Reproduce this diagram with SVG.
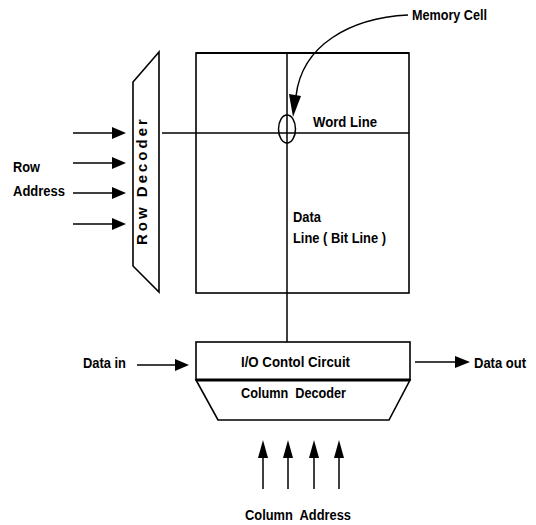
<svg xmlns="http://www.w3.org/2000/svg" width="536" height="525" viewBox="0 0 536 525">
<style>
text{font-family:"Liberation Sans",Arial,sans-serif;font-weight:bold;font-size:14px;fill:#000}
.ln{stroke:#000;stroke-width:1.5;fill:none}
.box{stroke:#000;stroke-width:1.6;fill:#fff}
.ah{fill:#000;stroke:none}
</style>
<rect width="536" height="525" fill="#fff"/>
<g id="memory-array">
<rect class="box" x="196" y="53" width="213" height="240"/>
<line x1="196" y1="53" x2="409" y2="53" stroke="#000" stroke-width="2.2"/>
<text x="293" y="222" textLength="28" lengthAdjust="spacingAndGlyphs">Data</text>
<text x="293" y="243" textLength="93" lengthAdjust="spacingAndGlyphs">Line ( Bit Line )</text>
<text x="313" y="127" textLength="64" lengthAdjust="spacingAndGlyphs">Word Line</text>
</g>
<g id="row-decoder">
<polygon class="box" points="159,52 133,82 133,266 159,292"/>
<text transform="translate(147,245) rotate(-90)" style="font-size:15px;letter-spacing:3px">Row Decoder</text>
</g>
<g id="io-control">
<rect class="box" x="196" y="342" width="214" height="38"/>
<text x="241" y="367" textLength="109" lengthAdjust="spacingAndGlyphs">I/O Contol Circuit</text>
</g>
<g id="column-decoder">
<polygon class="box" points="196,380 410,380 389,420 218,420"/>
<line x1="196" y1="380" x2="410" y2="380" stroke="#000" stroke-width="3"/>
<text x="241" y="398" style="white-space:pre" textLength="105" lengthAdjust="spacingAndGlyphs">Column  Decoder</text>
</g>
<g id="memory-cell">
<ellipse cx="287" cy="129" rx="8.5" ry="14" class="ln"/>
<text x="412" y="20" textLength="75" lengthAdjust="spacingAndGlyphs">Memory Cell</text>
</g>
<g id="labels">
<text x="13" y="172" textLength="27" lengthAdjust="spacingAndGlyphs">Row</text>
<text x="13" y="196" textLength="52" lengthAdjust="spacingAndGlyphs">Address</text>
<text x="83" y="368" textLength="43" lengthAdjust="spacingAndGlyphs">Data in</text>
<text x="474" y="368" textLength="52" lengthAdjust="spacingAndGlyphs">Data out</text>
<text x="245" y="520" style="white-space:pre" textLength="106" lengthAdjust="spacingAndGlyphs">Column  Address</text>
</g>
<g id="connectors">
<line class="ln" x1="162" y1="133" x2="409" y2="133"/>
<line class="ln" x1="287" y1="53" x2="287" y2="342"/>
<path class="ln" d="M408,15 C350,18 302,45 296,96"/>
<polygon class="ah" points="293,117 289,94 301,96"/>
<line class="ln" x1="73" y1="133" x2="114" y2="133"/>
<polygon class="ah" points="126,133 112,127 112,139"/>
<line class="ln" x1="73" y1="163" x2="114" y2="163"/>
<polygon class="ah" points="126,163 112,157 112,169"/>
<line class="ln" x1="73" y1="193" x2="114" y2="193"/>
<polygon class="ah" points="126,193 112,187 112,199"/>
<line class="ln" x1="73" y1="224" x2="114" y2="224"/>
<polygon class="ah" points="126,224 112,218 112,230"/>
<line class="ln" x1="137" y1="365" x2="177" y2="365"/>
<polygon class="ah" points="189,365 175,359 175,371"/>
<line class="ln" x1="415" y1="362" x2="457" y2="362"/>
<polygon class="ah" points="470,362 455,356 455,368"/>
<line class="ln" x1="263" y1="489" x2="263" y2="456"/>
<polygon class="ah" points="263,440 258,458 268,458"/>
<line class="ln" x1="288" y1="489" x2="288" y2="456"/>
<polygon class="ah" points="288,440 283,458 293,458"/>
<line class="ln" x1="314" y1="489" x2="314" y2="456"/>
<polygon class="ah" points="314,440 309,458 319,458"/>
<line class="ln" x1="339" y1="489" x2="339" y2="456"/>
<polygon class="ah" points="339,440 334,458 344,458"/>
</g>
</svg>
